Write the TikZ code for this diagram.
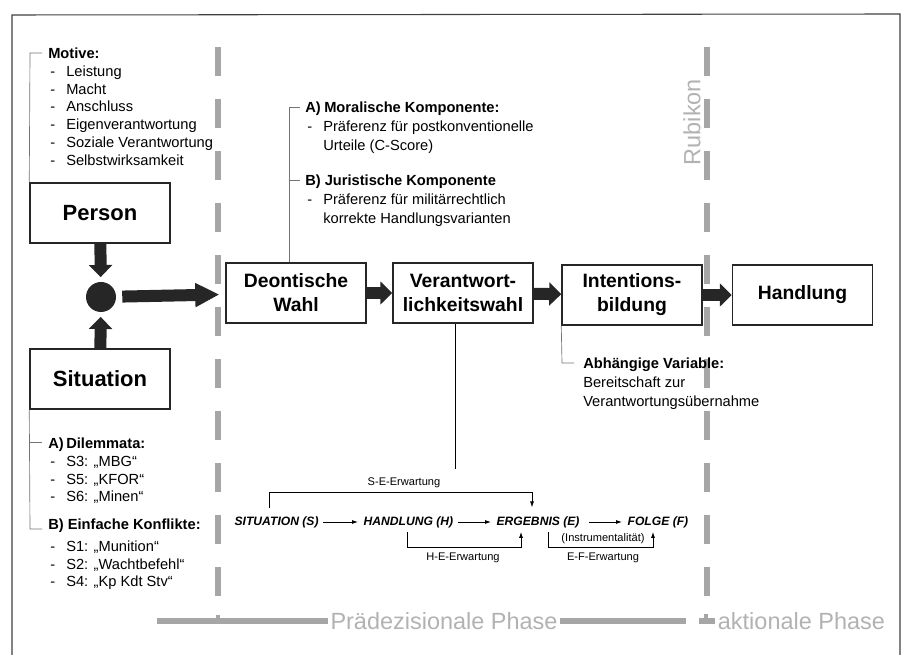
\documentclass[tikz,border=0pt]{standalone}
\usepackage{fontspec}
\setmainfont{Liberation Sans}
\usetikzlibrary{arrows.meta,calc}

\newcommand{\itm}[1]{\makebox[13.5pt][l]{\hspace{1.5pt}-}#1}

\tikzset{
  box/.style={draw=black!85, line width=1.1pt, minimum width=105pt, minimum height=45pt, inner sep=2pt, align=center, font=\fontsize{14.5}{18}\selectfont\bfseries},
  bigbox/.style={box, font=\fontsize{16.5}{20}\selectfont\bfseries},
  fat/.style={draw=black!85, line width=9pt, -{Triangle[length=9pt,width=17pt]}},
  bigfat/.style={fat, -{Triangle[length=18pt,width=17pt]}},
  lst/.style={anchor=north west, inner sep=0pt, align=left, font=\fontsize{11}{13.4}\selectfont},
  brk/.style={draw=black!55, line width=0.5pt},
  frm/.style={font=\fontsize{9.1}{11}\selectfont\bfseries\itshape, inner sep=1pt},
  lbl/.style={font=\fontsize{8.3}{10}\selectfont, inner sep=1pt},
  sm/.style={draw=black, line width=0.6pt, -{Latex[length=4.5pt,width=3pt]}},
  smline/.style={draw=black, line width=0.6pt},
  rubi/.style={draw=black!35, line width=4.5pt, dash pattern=on 21.75pt off 17.25pt},
  bar/.style={draw=black!35, line width=4.5pt},
  phase/.style={text=black!30, font=\fontsize{17.6}{20}\selectfont, inner sep=2pt}
}

\begin{document}
\begin{tikzpicture}[x=0.75pt,y=0.75pt,yscale=-1,xscale=1]
    \useasboundingbox (0,0) rectangle (907,655);
    % frame
    \draw [black!75, line width=0.8pt] (12,655) -- (12,15) -- (900,14) -- (900,655);

    % Rubikon lines
    \draw [rubi] (218,47) -- (218,596);
    \draw [rubi] (707,47) -- (707,596);
    \node (rubikon) [phase, rotate=90] at (692,122) {Rubikon};

    % main boxes
    \node (person) [bigbox] at (100,213) {Person};
    \node (situation) [bigbox] at (100,379) {Situation};
    \node (dot) [circle, fill=black!85, minimum size=22.5pt, inner sep=0pt] at (101,297) {};
    \node (deon) [box] at (296,293) {Deontische\\Wahl};
    \node (verant) [box] at (463,293) {Verantwort-\\lichkeitswahl};
    \node (intent) [box] at (632,295) {Intentions-\\bildung};
    \node (handl) [box] at (802.5,295) {Handlung};

    \draw [fat, shorten >=3.5pt] (person) -- (dot);
    \draw [fat, shorten >=3.5pt] (situation) -- (dot);
    \draw [bigfat, shorten <=4.5pt, shorten >=4.5pt] (dot) -- (deon);
    \draw [fat] (deon) -- (verant);
    \draw [fat] (verant) -- (intent);
    \draw [fat] (intent.east) -- (handl.west |- intent.east);

    % lists
    \node (motive) [lst] at (48,47.5) {\textbf{Motive:}\\
        \itm{Leistung}\\ \itm{Macht}\\ \itm{Anschluss}\\
        \itm{Eigenverantwortung}\\ \itm{Soziale Verantwortung}\\ \itm{Selbstwirksamkeit}};
    \coordinate (mot) at (30,53);
    \draw [brk] (person.north west) -- (mot) -- ++(12,0);

    \node (kompA) [lst, font=\fontsize{11}{14.25}\selectfont] at (305,101.5)
        {\textbf{\makebox[14.25pt][l]{A)}Moralische Komponente:}\\
        \itm{Präferenz für postkonventionelle}\\ \hspace*{13.5pt}Urteile (C-Score)};
    \node (kompB) [lst, font=\fontsize{11}{14.25}\selectfont] at (305,174.5)
        {\textbf{B) Juristische Komponente}\\
        \itm{Präferenz für militärrechtlich}\\ \hspace*{13.5pt}korrekte Handlungsvarianten};
    \coordinate (kA) at (289,107);
    \coordinate (kB) at (289,180);
    \draw [brk] (kA |- deon.north) -- (kA) -- ++(11,0);
    \draw [brk] (kB) -- ++(11,0);

    \node (dilem) [lst] at (48,437.5)
        {\textbf{\makebox[13.5pt][l]{A)}Dilemmata:}\\
        \itm{S3: „MBG“}\\ \itm{S5: „KFOR“}\\ \itm{S6: „Minen“}};
    \node (konfl) [lst] at (48,518.5)
        {\textbf{B) Einfache Konflikte:}\\[3pt]
        \itm{S1: „Munition“}\\ \itm{S2: „Wachtbefehl“}\\ \itm{S4: „Kp Kdt Stv“}};
    \coordinate (dA) at (30,442);
    \coordinate (dB) at (30,529);
    \draw [brk] (situation.south west) -- (dB) -- ++(12,0);
    \draw [brk] (dA) -- ++(12,0);

    \node (abh) [lst, font=\fontsize{11}{14.25}\selectfont] at (583,357.5)
        {\textbf{Abhängige Variable:}\\ Bereitschaft zur\\ Verantwortungsübernahme};
    \coordinate (ab) at (562,363);
    \draw [brk] (intent.south west) -- (ab) -- ++(12,0);

    % expectation model
    \node (sit) [frm, anchor=west] at (233,522) {SITUATION (S)};
    \node (hand) [frm, anchor=west] at (362,522) {HANDLUNG (H)};
    \node (erg) [frm, anchor=west] at (495,522) {ERGEBNIS (E)};
    \node (folge) [frm, anchor=west] at (626,522) {FOLGE (F)};
    \draw [sm, shorten <=2pt, shorten >=3pt] (sit) -- (hand);
    \draw [sm, shorten <=2pt, shorten >=3pt] (hand) -- (erg);
    \draw [sm, shorten <=6pt, shorten >=3pt] (erg) -- (folge);

    \coordinate (vend) at (455,469);
    \draw [smline] (vend |- verant.south) -- (vend);

    \coordinate (se1) at (269,492);
    \coordinate (se2) at (532,492);
    \draw [sm, shorten <=5pt, shorten >=5.5pt] (se1 |- sit.north) -- (se1) -- (se2) -- (se2 |- erg.north);
    \node (selbl) [lbl] at (404,483) {S-E-Erwartung};

    \coordinate (he1) at (407,547);
    \coordinate (he2) at (521,547);
    \draw [sm, shorten <=2pt, shorten >=2pt] (he1 |- hand.south) -- (he1) -- (he2) -- (he2 |- erg.south);
    \node (helbl) [lbl] at (463,558) {H-E-Erwartung};

    \coordinate (ef1) at (548,547);
    \coordinate (ef2) at (653,547);
    \draw [sm, shorten <=2pt, shorten >=2pt] (ef1 |- erg.south) -- (ef1) -- (ef2) -- (ef2 |- folge.south);
    \node (instr) [lbl] at (603,539) {(Instrumentalität)};
    \node (eflbl) [lbl] at (603,558) {E-F-Erwartung};

    % phases
    \node (praed) [phase] at (444,621) {Prädezisionale Phase};
    \node (aktion) [phase, anchor=west] at (715,621) {aktionale Phase};
    \draw [bar] (157,621) -- (praed.west);
    \draw [bar] (praed.east) -- (686,621);
    \draw [bar] (699,621) -- (aktion.west);
    \draw [black!35, line width=3pt] (218,621) -- (218,615);
    \draw [black!35, line width=3pt] (706,621) -- (706,614);

\end{tikzpicture}
\end{document}
